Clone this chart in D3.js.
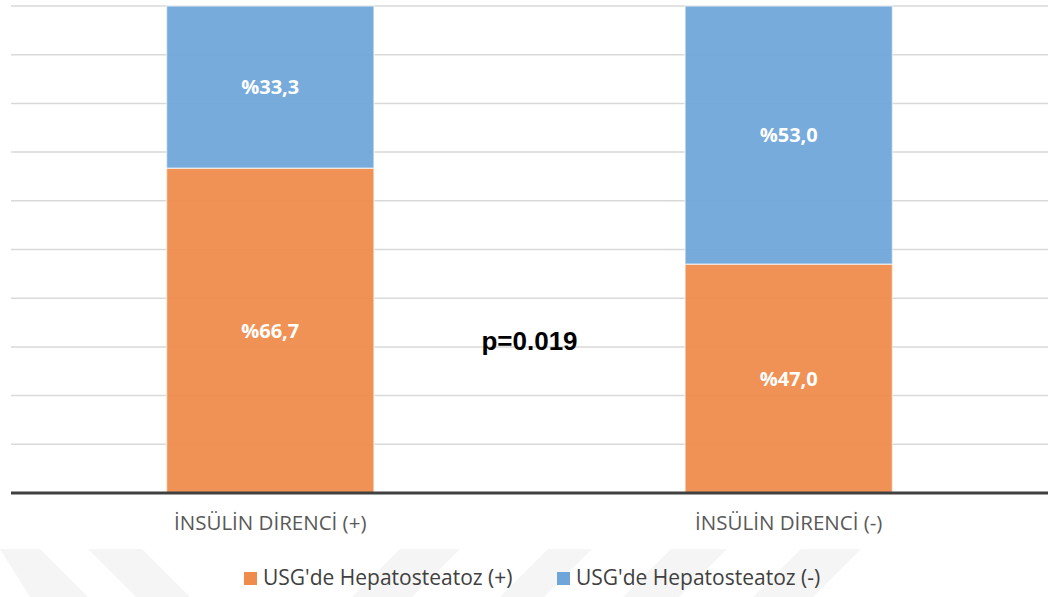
<!DOCTYPE html>
<html>
<head>
<meta charset="utf-8">
<script src="https://cdn.jsdelivr.net/npm/d3@7"></script>
<style>
  html, body { margin: 0; padding: 0; background: #ffffff; }
  svg { display: block; }
</style>
</head>
<body>
<svg id="chart" width="1048" height="597"></svg>
<script>
// Categories and stacked shares (percent)
const categories = ["İNSÜLİN DİRENCİ (+)", "İNSÜLİN DİRENCİ (-)"];
const seriesNames = ["USG'de Hepatosteatoz (+)", "USG'de Hepatosteatoz (-)"];
const hepatosteatozPos = [66.7, 47.0];
const hepatosteatozNeg = [33.3, 53.0];
const gridTicks = [0, 10, 20, 30, 40, 50, 60, 70, 80, 90, 100];
const pValueText = "p=0.019";

const colors = ["#ef8c4c", "#6fa6da"];

const W = 1048, H = 597;
const svg = d3.select("#chart");

// faint background decoration along the bottom edge
const deco = svg.append("g").attr("fill", "#f5f5f5");
const decoShapes = [
  [[0,549],[40,549],[88,597],[30,597]],
  [[88,549],[142,549],[190,597],[136,597]],
  [[400,549],[460,549],[412,597],[352,597]],
  [[548,549],[592,549],[544,597],[500,597]],
  [[671,549],[727,549],[679,597],[623,597]],
  [[801,549],[861,549],[813,597],[753,597]]
];
deco.selectAll("polygon").data(decoShapes).join("polygon")
  .attr("points", d => d.map(p => p.join(",")).join(" "));

const plot = { left: 11, right: 1048, top: 6, bottom: 493 };

const x = d3.scaleBand()
  .domain(categories)
  .range([plot.left, plot.right])
  .paddingInner(0.6)
  .paddingOuter(0.3);

const y = d3.scaleLinear()
  .domain([0, 100])
  .range([plot.bottom, plot.top]);

// horizontal gridlines
svg.append("g")
  .selectAll("line")
  .data(gridTicks.filter(t => t > 0))
  .join("line")
  .attr("x1", plot.left).attr("x2", plot.right)
  .attr("y1", d => y(d)).attr("y2", d => y(d))
  .attr("stroke", "#d9d9d9")
  .attr("stroke-width", 1.5);

// stacked data
const rows = categories.map((c, i) => ({
  category: c,
  [seriesNames[0]]: hepatosteatozPos[i],
  [seriesNames[1]]: hepatosteatozNeg[i]
}));
const stacked = d3.stack().keys(seriesNames)(rows);

const layers = svg.append("g")
  .selectAll("g")
  .data(stacked)
  .join("g")
  .attr("fill", (d, i) => colors[i]);

layers.selectAll("rect")
  .data(d => d)
  .join("rect")
  .attr("x", d => x(d.data.category))
  .attr("width", x.bandwidth())
  .attr("y", d => y(d[1]))
  .attr("height", d => y(d[0]) - y(d[1]))
  .attr("fill-opacity", 0.95)
  .attr("stroke", "rgba(255,255,255,0.55)")
  .attr("stroke-width", 1.5);

// value labels inside segments
const fmt = v => "%" + v.toFixed(1).replace(".", ",");
layers.selectAll("text")
  .data(d => d.map(s => ({ s, key: d.key })))
  .join("text")
  .attr("x", d => x(d.s.data.category) + x.bandwidth() / 2)
  .attr("y", d => y((d.s[0] + d.s[1]) / 2))
  .attr("dy", "0.36em")
  .attr("text-anchor", "middle")
  .attr("font-family", "'Open Sans', sans-serif")
  .attr("font-weight", "bold")
  .attr("font-size", 20)
  .attr("fill", "#ffffff")
  .text(d => fmt(d.s.data[d.key]));

// baseline axis
svg.append("line")
  .attr("x1", plot.left).attr("x2", plot.right)
  .attr("y1", y(0)).attr("y2", y(0))
  .attr("stroke", "#404040")
  .attr("stroke-width", 3.2);

// category labels
svg.append("g")
  .selectAll("text")
  .data(categories)
  .join("text")
  .attr("x", d => x(d) + x.bandwidth() / 2)
  .attr("y", 530)
  .attr("text-anchor", "middle")
  .attr("font-family", "'Open Sans', sans-serif")
  .attr("font-size", 20.5)
  .attr("fill", "#595959")
  .text(d => d);

// significance annotation
svg.append("text")
  .attr("x", (plot.left + plot.right) / 2)
  .attr("y", 350)
  .attr("text-anchor", "middle")
  .attr("font-family", "'Liberation Sans', Arial, sans-serif")
  .attr("font-weight", "bold")
  .attr("font-size", 26)
  .attr("fill", "#000000")
  .text(pValueText);

// legend
const legendX = [244, 557];
const legend = svg.append("g")
  .selectAll("g")
  .data(seriesNames)
  .join("g")
  .attr("transform", (d, i) => `translate(${legendX[i]},572)`);
legend.append("rect")
  .attr("width", 13).attr("height", 13)
  .attr("fill", (d, i) => colors[i]);
legend.append("text")
  .attr("x", 19)
  .attr("y", 13)
  .attr("font-family", "'Open Sans', sans-serif")
  .attr("font-size", 21)
  .attr("fill", "#404040")
  .text(d => d);
</script>
</body>
</html>
